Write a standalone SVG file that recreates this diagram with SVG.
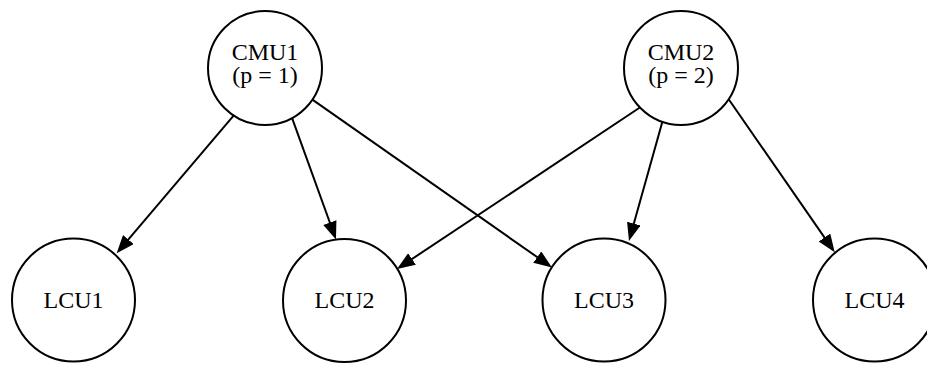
<svg xmlns="http://www.w3.org/2000/svg" width="927" height="365" viewBox="0 0 927 365">
  <style>
    .node circle { fill: #fff; stroke: #000; stroke-width: 2; }
    .node text { font-family: "Liberation Serif", "Times New Roman", serif; font-size: 24px; fill: #000; text-anchor: middle; }
    .edges line { stroke: #000; stroke-width: 2; marker-end: url(#arrow); }
  </style>
  <defs>
    <!-- filled triangular arrowhead; its tip sits 9px past the line end -->
    <marker id="arrow" markerUnits="userSpaceOnUse" markerWidth="18" markerHeight="14" refX="9" refY="7" orient="auto">
      <path d="M0,0 L18,7 L0,14 z" fill="#000"/>
    </marker>
  </defs>
  <rect width="927" height="365" fill="#fff"/>

  <g class="edges">
    <line x1="233.6" y1="115.6" x2="122.5" y2="246.4"/>
    <line x1="292.1" y1="118.2" x2="332.9" y2="231"/>
    <line x1="312.4" y1="99.6" x2="544.6" y2="262.3"/>
    <line x1="639.9" y1="107.5" x2="404.5" y2="264"/>
    <line x1="662.3" y1="121.9" x2="631.4" y2="232.3"/>
    <line x1="728.7" y1="99.2" x2="829.6" y2="244.9"/>
  </g>

  <g id="cmu1" class="node">
    <circle cx="265" cy="68" r="57"/>
    <text x="265" y="59.5">CMU1</text>
    <text x="265" y="83">(p = 1)</text>
  </g>
  <g id="cmu2" class="node">
    <circle cx="681" cy="68" r="57"/>
    <text x="681" y="59.5">CMU2</text>
    <text x="681" y="83">(p = 2)</text>
  </g>
  <g id="lcu1" class="node">
    <circle cx="73.5" cy="300" r="61.5"/>
    <text x="73.5" y="308">LCU1</text>
  </g>
  <g id="lcu2" class="node">
    <circle cx="344.5" cy="300.5" r="61.5"/>
    <text x="344.5" y="308">LCU2</text>
  </g>
  <g id="lcu3" class="node">
    <circle cx="604" cy="300" r="61.5"/>
    <text x="604" y="308">LCU3</text>
  </g>
  <g id="lcu4" class="node">
    <circle cx="874.5" cy="300" r="61.5"/>
    <text x="874.5" y="308">LCU4</text>
  </g>
</svg>
